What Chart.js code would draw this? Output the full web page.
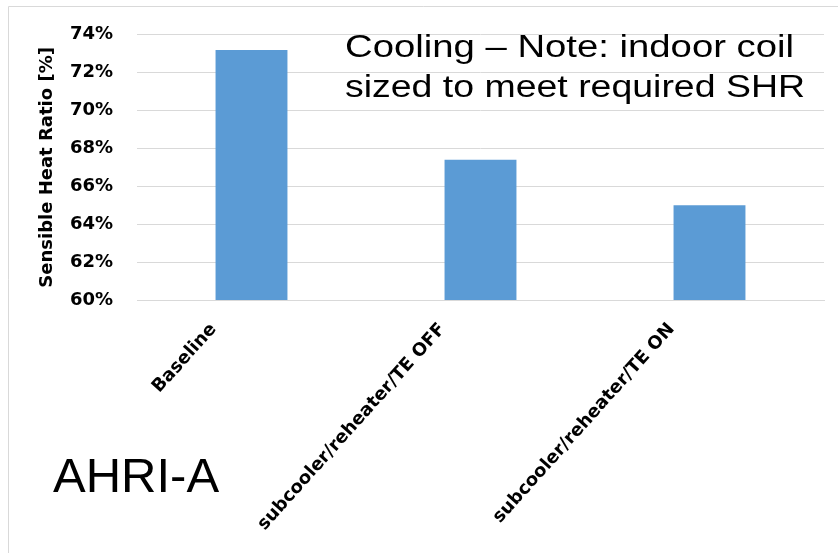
<!DOCTYPE html>
<html>
<head>
<meta charset="utf-8">
<script src="https://cdn.jsdelivr.net/npm/chart.js@4.4.1/dist/chart.umd.min.js"></script>
<style>
  html, body { margin: 0; padding: 0; background: #ffffff; }
  #wrap { width: 838px; height: 553px; position: relative; }
</style>
</head>
<body>
<div id="wrap"><canvas id="chart" width="838" height="553"></canvas></div>
<script>
// Sensible heat ratio per configuration (AHRI-A cooling test)
const categories = ['Baseline', 'subcooler/reheater/TE OFF', 'subcooler/reheater/TE ON'];
const shrValues = [73.2, 67.4, 65.0];
const yTicks = { min: 60, max: 74, step: 2 };
const noteLines = ['Cooling \u2013 Note: indoor coil', 'sized to meet required SHR'];
const conditionLabel = 'AHRI-A';

// Frame and free text drawn on the canvas
const overlayText = {
  id: 'overlayText',
  beforeDraw(chart) {
    const ctx = chart.ctx;
    ctx.save();
    ctx.strokeStyle = '#d9d9d9';
    ctx.lineWidth = 1;
    ctx.beginPath();
    ctx.moveTo(8.5, 553);
    ctx.lineTo(8.5, 6.5);
    ctx.lineTo(838, 6.5);
    ctx.stroke();
    ctx.restore();
  },
  afterDraw(chart) {
    const ctx = chart.ctx;
    ctx.save();
    ctx.fillStyle = '#000000';
    ctx.textBaseline = 'alphabetic';
    ctx.textAlign = 'left';
    ctx.font = '31px "Liberation Sans", Arial, sans-serif';
    const targets = [[345, 56.5, 449], [345, 96.5, 460]];
    noteLines.forEach((line, i) => {
      const [x, y, w] = targets[i];
      const sx = w / ctx.measureText(line).width;
      ctx.save();
      ctx.translate(x, y);
      ctx.scale(sx, 1);
      ctx.fillText(line, 0, 0);
      ctx.restore();
    });
    ctx.font = '49px "Liberation Sans", Arial, sans-serif';
    ctx.fillText(conditionLabel, 53, 491.5);
    ctx.restore();
  }
};

new Chart(document.getElementById('chart'), {
  type: 'bar',
  data: {
    labels: categories,
    datasets: [{
      data: shrValues,
      backgroundColor: '#5b9bd5',
      borderWidth: 0,
      barPercentage: 0.314,
      categoryPercentage: 1.0
    }]
  },
  options: {
    responsive: false,
    animation: false,
    devicePixelRatio: 1,
    layout: { padding: { left: 37, top: 29, right: 14, bottom: 0 } },
    plugins: { legend: { display: false }, tooltip: { enabled: false } },
    scales: {
      x: {
        grid: { display: false, drawTicks: false },
        border: { display: true, color: '#d9d9d9', width: 1 },
        ticks: {
          color: '#000000',
          font: { family: '"DejaVu Sans"', weight: 'bold', size: 18 },
          minRotation: 48,
          maxRotation: 48,
          autoSkip: false,
          labelOffset: -38,
          padding: 19
        },
        afterFit(scale) { scale.height = 253; }
      },
      y: {
        min: yTicks.min,
        max: yTicks.max,
        grid: { color: '#d9d9d9', lineWidth: 1, drawTicks: false },
        border: { display: false },
        ticks: {
          stepSize: yTicks.step,
          color: '#000000',
          font: { family: '"DejaVu Sans"', weight: 'bold', size: 18 },
          padding: 24,
          callback: v => v + '%'
        },
        title: {
          display: true,
          text: 'Sensible Heat Ratio [%]',
          color: '#000000',
          font: { family: '"DejaVu Sans"', weight: 'bold', size: 18 },
          padding: { top: 0, bottom: 0 }
        },
        afterFit(scale) { scale.width = 100; }
      }
    }
  },
  plugins: [overlayText]
});
</script>
</body>
</html>
